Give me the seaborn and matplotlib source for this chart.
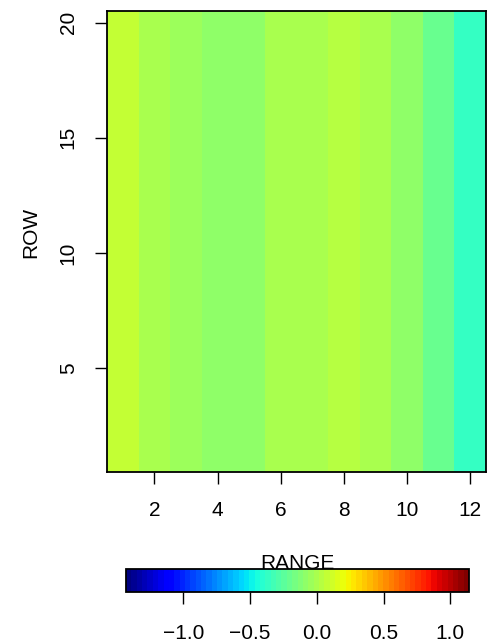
import numpy as np
import pandas as pd
import seaborn as sns
import matplotlib.pyplot as plt

sns.set_style('white')
plt.rcParams['font.family'] = ['Liberation Sans', 'DejaVu Sans']
plt.rcParams['text.color'] = 'black'
plt.rcParams['axes.labelcolor'] = 'black'

# one value per RANGE column, constant down the 20 rows
range_vals = np.arange(1, 13)
col_values = [0.09, 0.01, -0.04, -0.07, -0.07, -0.02, -0.02, 0.04, -0.02, -0.07, -0.22, -0.38]
rows = np.arange(20, 0, -1)
zlim = (-1.43, 1.14)
xticks = [2, 4, 6, 8, 10, 12]
yticks = [5, 10, 15, 20]
cbar_ticks = [-1.0, -0.5, 0.0, 0.5, 1.0]

grid = pd.DataFrame(np.tile(col_values, (len(rows), 1)), index=rows, columns=range_vals)

W, H = 488, 643
fig = plt.figure(figsize=(W / 100, H / 100), dpi=100)
ax = fig.add_axes([107 / W, (H - 472) / H, (486 - 107) / W, (472 - 11) / H])
cax = fig.add_axes([126 / W, (H - 592) / H, (469 - 126) / W, (592 - 569) / H])

cmap = plt.get_cmap('jet', 64)
sns.heatmap(grid, ax=ax, cmap=cmap, vmin=zlim[0], vmax=zlim[1],
            cbar_ax=cax, cbar_kws={'orientation': 'horizontal', 'ticks': cbar_ticks})

fs = 15
ax.set_xticks([c - 0.5 for c in xticks])
ax.set_xticklabels([str(c) for c in xticks], rotation=0, fontsize=fs)
ax.set_yticks([rows.max() - r + 0.5 for r in yticks])
ax.set_yticklabels([str(r) for r in yticks], rotation=90, va='center', fontsize=fs)
ax.set_xlabel('')
ax.set_ylabel('ROW', fontsize=fs, color='black')
ax.yaxis.set_label_coords(-0.177, 0.52)
for s in ax.spines.values():
    s.set_visible(True)
    s.set_color('black')
    s.set_linewidth(1.3)
ax.tick_params(axis='both', direction='out', length=8.5, width=1.0, color='black',
               pad=12.5, bottom=True, left=True, labelcolor='black')

cb = ax.collections[0].colorbar
cb.outline.set_edgecolor('black')
cb.outline.set_linewidth(1.3)
cax.set_xticklabels([('%.1f' % t).replace('-', '\u2212') for t in cbar_ticks])
cax.tick_params(axis='x', direction='out', length=8.5, width=1.0, color='black',
                pad=14.5, labelsize=fs, labelcolor='black', bottom=True)
cax.text(0.5, 1.0, 'RANGE', transform=cax.transAxes, ha='center', va='baseline',
         fontsize=fs, color='black')

fig.savefig('out.png', dpi=100)
